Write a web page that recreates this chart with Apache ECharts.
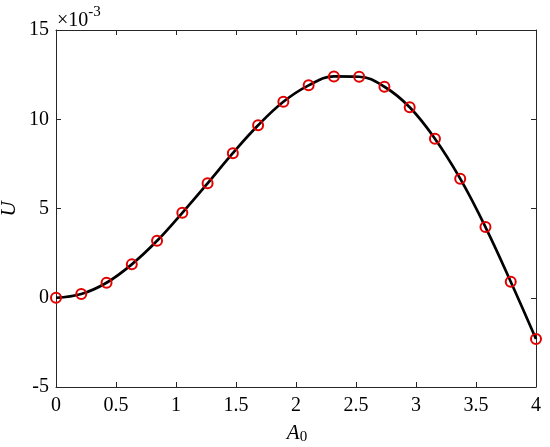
<!DOCTYPE html>
<html>
<head>
<meta charset="utf-8">
<script src="https://cdn.jsdelivr.net/npm/echarts@6/dist/echarts.min.js"></script>
<style>html,body{margin:0;padding:0;background:#fff}#c{width:550px;height:447px}</style>
</head>
<body>
<div id="c"></div>
<script>
const xValues = [0, 0.2105, 0.4211, 0.6316, 0.8421, 1.0526, 1.2632, 1.4737, 1.6842, 1.8947, 2.1053, 2.3158, 2.5263, 2.7368, 2.9474, 3.1579, 3.3684, 3.5789, 3.7895, 4.0];
const uValues = [0, 0.21, 0.84, 1.87, 3.19, 4.76, 6.41, 8.10, 9.66, 10.98, 11.90, 12.40, 12.38, 11.82, 10.67, 8.91, 6.67, 3.96, 0.90, -2.31];
const xTicks = [0, 0.5, 1, 1.5, 2, 2.5, 3, 3.5, 4];
const yTicks = [-5, 0, 5, 10, 15];

const pts = xValues.map((x, i) => [x, uValues[i]]);
const font = '"Liberation Serif", "Times New Roman", serif';
const axisCol = '#262626';

const chart = echarts.init(document.getElementById('c'), null, {renderer: 'canvas'});
const baseX = {
  type: 'value', min: 0, max: 4, interval: 0.5,
  axisLine: {show: true, onZero: false, lineStyle: {color: axisCol, width: 1}},
  axisTick: {show: true, inside: true, length: 5, lineStyle: {color: axisCol}},
  splitLine: {show: false}
};
const baseY = {
  type: 'value', min: -5, max: 15, interval: 5,
  axisLine: {show: true, onZero: false, lineStyle: {color: axisCol, width: 1}},
  axisTick: {show: true, inside: true, length: 5, lineStyle: {color: axisCol}},
  splitLine: {show: false}
};
chart.setOption({
  animation: false,
  backgroundColor: '#fff',
  grid: {left: 56, right: 14, top: 30, bottom: 60, containLabel: false},
  xAxis: [
    Object.assign({}, baseX, {position: 'bottom',
      axisLabel: {show: true, color: '#000', fontFamily: font, fontSize: 20, margin: 9,
        formatter: v => xTicks.includes(v) ? String(v) : ''}}),
    Object.assign({}, baseX, {position: 'top', axisLabel: {show: false}})
  ],
  yAxis: [
    Object.assign({}, baseY, {position: 'left',
      axisLabel: {show: true, color: '#000', fontFamily: font, fontSize: 20, margin: 7,
        formatter: v => yTicks.includes(v) ? String(v) : ''}}),
    Object.assign({}, baseY, {position: 'right', axisLabel: {show: false}})
  ],
  graphic: [
    {type: 'text', left: 57, top: 5, style: {
      text: '{a|×10}{b|-3}', rich: {
        a: {fontFamily: font, fontSize: 20, fill: '#000', verticalAlign: 'bottom'},
        b: {fontFamily: font, fontSize: 15, fill: '#000', verticalAlign: 'top', padding: [0,0,11,0]}
      }}},
    {type: 'text', x: 9, y: 209, rotation: Math.PI / 2, style: {
      text: 'U', fontFamily: font, fontSize: 21, fontStyle: 'italic', fill: '#000', align: 'center', verticalAlign: 'middle'}},
    {type: 'text', x: 297, y: 433, style: {
      text: '{a|A}{b|0}', align: 'center', verticalAlign: 'middle', rich: {
        a: {fontFamily: font, fontSize: 21, fontStyle: 'italic', fill: '#000'},
        b: {fontFamily: font, fontSize: 15, fill: '#000', padding: [8,0,0,0]}
      }}}
  ],
  series: [
    {type: 'line', data: pts, smooth: 0.4, showSymbol: false, lineStyle: {color: '#000', width: 2.7}, z: 2},
    {type: 'scatter', data: pts, symbol: 'circle', symbolSize: 10,
      itemStyle: {color: 'rgba(0,0,0,0)', opacity: 1, borderColor: '#e00000', borderWidth: 2}, z: 3}
  ]
});
</script>
</body>
</html>
